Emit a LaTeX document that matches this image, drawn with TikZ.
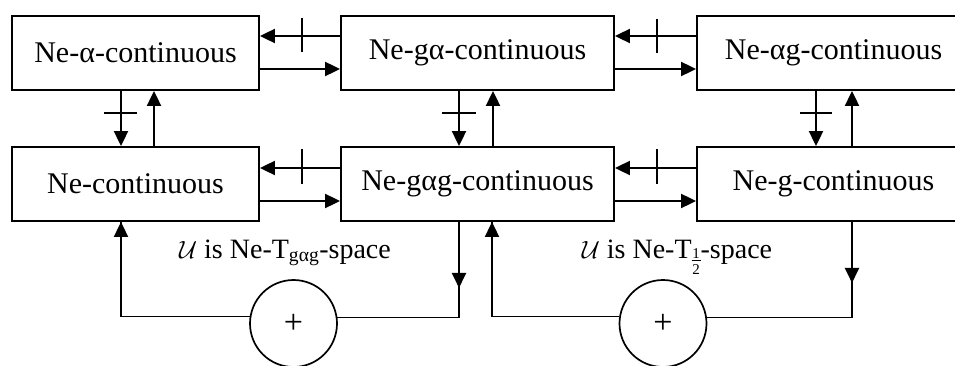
\documentclass[tikz,border=0pt]{standalone}
\usepackage{fontspec}
\setmainfont{Liberation Serif}
\usetikzlibrary{arrows.meta,calc}
\newcommand\halfsub{\raisebox{-16pt}{\fontsize{15}{15}\selectfont\vbox{\hbox to 9pt{\hss 1\hss}\kern0.8pt\hrule height 1pt\kern3.5pt\hbox to 9pt{\hss 2\hss}}}}
\tikzset{
  box/.style={draw, line width=1.9pt, minimum width=247pt, minimum height=74pt, inner sep=0pt, font=\fontsize{30}{33}\selectfont},
  wbox/.style={box, minimum width=273pt},
  arr/.style={line width=2.1pt, -{Triangle[length=15pt,width=14pt]}},
  tickline/.style={line width=1.7pt},
  loopline/.style={line width=1.6pt},
  plus/.style={draw, circle, line width=1.7pt, minimum size=87pt, inner sep=0pt, font=\fontsize{34}{36}\selectfont},
  lbl/.style={font=\fontsize{28}{30}\selectfont, inner sep=0pt, anchor=base}
}
\begin{document}
\begin{tikzpicture}[x=1pt,y=1pt]
\useasboundingbox (0,0) rectangle (955,365);
\clip (0,0) rectangle (955,365);
% boxes
\node[box]  (A) at (135.5,312) {Ne-α-continuous};
\node[wbox] (B) at (477.5,312) {Ne-gα-continuous};
\node[wbox] (C) at (833.5,312) {Ne-αg-continuous};
\node[box]  (D) at (135.5,181) {Ne-continuous};
\node[wbox] (E) at (477.5,181) {Ne-gαg-continuous};
\node[wbox] (F) at (833.5,181) {Ne-g-continuous};
% horizontal arrows row 1
\draw[arr] ([yshift=17pt]B.west) -- ([yshift=17pt]A.east);
\draw[arr] ([yshift=-16pt]A.east) -- ([yshift=-16pt]B.west);
\draw[arr] ([yshift=17pt]C.west) -- ([yshift=17pt]B.east);
\draw[arr] ([yshift=-16pt]B.east) -- ([yshift=-16pt]C.west);
% horizontal arrows row 2
\draw[arr] ([yshift=16pt]E.west) -- ([yshift=16pt]D.east);
\draw[arr] ([yshift=-17pt]D.east) -- ([yshift=-17pt]E.west);
\draw[arr] ([yshift=16pt]F.west) -- ([yshift=16pt]E.east);
\draw[arr] ([yshift=-17pt]E.east) -- ([yshift=-17pt]F.west);
% ticks on horizontal arrows
\draw[tickline] ([xshift=-38pt,yshift=35pt]B.west) -- ++(0,-34);
\draw[tickline] ([xshift=-39pt,yshift=34pt]C.west) -- ++(0,-34);
\draw[tickline] ([xshift=-38pt,yshift=35pt]E.west) -- ++(0,-35);
\draw[tickline] ([xshift=-39pt,yshift=35pt]F.west) -- ++(0,-35);
% vertical arrows
\draw[arr] ([xshift=-14.5pt]A.south) -- ([xshift=-14.5pt]D.north);
\draw[arr] ([xshift=18.5pt]D.north) -- ([xshift=18.5pt]A.south);
\draw[arr] ([xshift=-18.5pt]B.south) -- ([xshift=-18.5pt]E.north);
\draw[arr] ([xshift=15.5pt]E.north) -- ([xshift=15.5pt]B.south);
\draw[arr] ([xshift=-17.5pt]C.south) -- ([xshift=-17.5pt]F.north);
\draw[arr] ([xshift=18.5pt]F.north) -- ([xshift=18.5pt]C.south);
% ticks on vertical arrows
\draw[tickline] ([xshift=-31.5pt,yshift=-22pt]A.south) -- ++(33,0);
\draw[tickline] ([xshift=-35.5pt,yshift=-22pt]B.south) -- ++(34,0);
\draw[tickline] ([xshift=-33.5pt,yshift=-22pt]C.south) -- ++(32,0);
% circles
\node[plus] (P1) at (293.5,41.5) {+};
\node[plus] (P2) at (663,41.5) {+};
% labels
\node[lbl] (L1) at (285,107) {$\mathcal{U}$ is Ne-T\textsubscript{gαg}-space};
\node[lbl] (L2) at (677,107) {$\mathcal{U}$ is Ne-T\halfsub-space};
% left loop
\draw[loopline] (P1.171.4) -| coordinate[pos=0.5] (k1) ([xshift=-14.5pt]D.south);
\draw[arr] (k1) -- ([xshift=-14.5pt]D.south);
\draw[loopline] (P1.8.6) -| coordinate[pos=0.5] (k2) ([xshift=-18.5pt]E.south);
\draw[arr] ([xshift=-18.5pt]E.south) -- ++(0,-66);
% right loop
\draw[loopline] (P2.171.4) -| coordinate[pos=0.5] (k3) ([xshift=14.5pt]E.south);
\draw[arr] (k3) -- ([xshift=14.5pt]E.south);
\draw[loopline] (P2.8.6) -| coordinate[pos=0.5] (k4) ([xshift=18.5pt]F.south);
\draw[arr] ([xshift=18.5pt]F.south) -- ++(0,-61);
\end{tikzpicture}
\end{document}
